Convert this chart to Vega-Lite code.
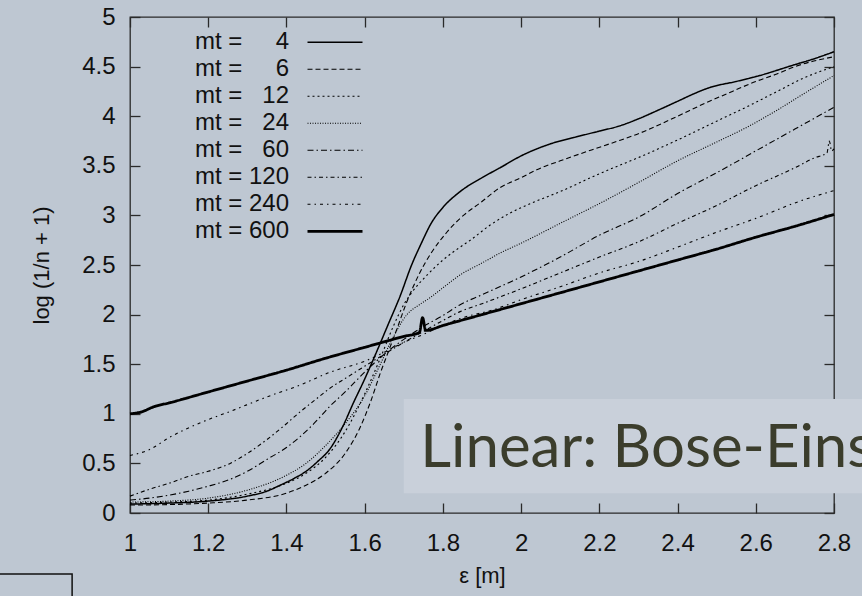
{
  "$schema": "https://vega.github.io/schema/vega-lite/v6.json",
  "width": 704,
  "height": 496,
  "autosize": {"type": "none"},
  "padding": {"left": 130, "top": 17, "right": 28, "bottom": 83},
  "background": "#bec7d2",
  "config": {
    "view": {"stroke": "#2a2a2a", "strokeWidth": 1.3},
    "font": "Liberation Sans",
    "axis": {
      "domain": false, "grid": false, "tickSize": -10, "tickColor": "#2a2a2a", "tickWidth": 1.3,
      "labelFont": "Liberation Sans", "labelFontSize": 24, "labelColor": "#111111",
      "labelFlush": false, "labelOverlap": false,
      "titleFont": "Liberation Sans", "titleFontSize": 22, "titleColor": "#111111", "titleFontWeight": "normal"
    }
  },
  "datasets": {
    "curves": [
      {"mt":"4","x":1.0,"y":0.09},{"mt":"4","x":1.1,"y":0.1},{"mt":"4","x":1.2,"y":0.12},{"mt":"4","x":1.3,"y":0.17},{"mt":"4","x":1.35,"y":0.22},{"mt":"4","x":1.384,"y":0.28},{"mt":"4","x":1.42,"y":0.35},{"mt":"4","x":1.45,"y":0.42},{"mt":"4","x":1.48,"y":0.52},{"mt":"4","x":1.51,"y":0.64},{"mt":"4","x":1.545,"y":0.88},{"mt":"4","x":1.57,"y":1.1},{"mt":"4","x":1.6,"y":1.35},{"mt":"4","x":1.63,"y":1.62},{"mt":"4","x":1.66,"y":1.9},{"mt":"4","x":1.69,"y":2.18},{"mt":"4","x":1.72,"y":2.5},{"mt":"4","x":1.745,"y":2.72},{"mt":"4","x":1.77,"y":2.92},{"mt":"4","x":1.8,"y":3.08},{"mt":"4","x":1.844,"y":3.24},{"mt":"4","x":1.9,"y":3.38},{"mt":"4","x":1.946,"y":3.48},{"mt":"4","x":2.0,"y":3.6},{"mt":"4","x":2.074,"y":3.72},{"mt":"4","x":2.15,"y":3.8},{"mt":"4","x":2.2,"y":3.85},{"mt":"4","x":2.25,"y":3.9},{"mt":"4","x":2.304,"y":3.98},{"mt":"4","x":2.35,"y":4.06},{"mt":"4","x":2.4,"y":4.15},{"mt":"4","x":2.45,"y":4.24},{"mt":"4","x":2.483,"y":4.29},{"mt":"4","x":2.55,"y":4.35},{"mt":"4","x":2.61,"y":4.41},{"mt":"4","x":2.7,"y":4.52},{"mt":"4","x":2.75,"y":4.58},{"mt":"4","x":2.8,"y":4.65},
      {"mt":"6","x":1.0,"y":0.08},{"mt":"6","x":1.1,"y":0.085},{"mt":"6","x":1.2,"y":0.1},{"mt":"6","x":1.3,"y":0.13},{"mt":"6","x":1.4,"y":0.2},{"mt":"6","x":1.45,"y":0.28},{"mt":"6","x":1.5,"y":0.4},{"mt":"6","x":1.55,"y":0.6},{"mt":"6","x":1.588,"y":0.86},{"mt":"6","x":1.615,"y":1.12},{"mt":"6","x":1.64,"y":1.41},{"mt":"6","x":1.66,"y":1.62},{"mt":"6","x":1.683,"y":1.86},{"mt":"6","x":1.705,"y":2.1},{"mt":"6","x":1.724,"y":2.28},{"mt":"6","x":1.742,"y":2.43},{"mt":"6","x":1.77,"y":2.62},{"mt":"6","x":1.81,"y":2.83},{"mt":"6","x":1.844,"y":2.97},{"mt":"6","x":1.9,"y":3.14},{"mt":"6","x":1.946,"y":3.28},{"mt":"6","x":2.0,"y":3.38},{"mt":"6","x":2.04,"y":3.46},{"mt":"6","x":2.1,"y":3.55},{"mt":"6","x":2.18,"y":3.66},{"mt":"6","x":2.24,"y":3.74},{"mt":"6","x":2.304,"y":3.83},{"mt":"6","x":2.4,"y":4.0},{"mt":"6","x":2.47,"y":4.13},{"mt":"6","x":2.54,"y":4.25},{"mt":"6","x":2.6,"y":4.35},{"mt":"6","x":2.65,"y":4.42},{"mt":"6","x":2.7,"y":4.5},{"mt":"6","x":2.8,"y":4.6},
      {"mt":"12","x":1.0,"y":0.1},{"mt":"12","x":1.1,"y":0.11},{"mt":"12","x":1.2,"y":0.13},{"mt":"12","x":1.3,"y":0.19},{"mt":"12","x":1.4,"y":0.3},{"mt":"12","x":1.45,"y":0.4},{"mt":"12","x":1.5,"y":0.56},{"mt":"12","x":1.55,"y":0.82},{"mt":"12","x":1.6,"y":1.2},{"mt":"12","x":1.64,"y":1.56},{"mt":"12","x":1.673,"y":1.88},{"mt":"12","x":1.7,"y":2.1},{"mt":"12","x":1.72,"y":2.22},{"mt":"12","x":1.76,"y":2.4},{"mt":"12","x":1.8,"y":2.55},{"mt":"12","x":1.844,"y":2.68},{"mt":"12","x":1.87,"y":2.75},{"mt":"12","x":1.92,"y":2.9},{"mt":"12","x":1.97,"y":3.02},{"mt":"12","x":2.03,"y":3.13},{"mt":"12","x":2.1,"y":3.24},{"mt":"12","x":2.2,"y":3.42},{"mt":"12","x":2.304,"y":3.59},{"mt":"12","x":2.4,"y":3.76},{"mt":"12","x":2.5,"y":3.95},{"mt":"12","x":2.58,"y":4.1},{"mt":"12","x":2.65,"y":4.24},{"mt":"12","x":2.72,"y":4.38},{"mt":"12","x":2.8,"y":4.5},
      {"mt":"24","x":1.0,"y":0.11},{"mt":"24","x":1.1,"y":0.12},{"mt":"24","x":1.2,"y":0.15},{"mt":"24","x":1.3,"y":0.23},{"mt":"24","x":1.4,"y":0.38},{"mt":"24","x":1.45,"y":0.5},{"mt":"24","x":1.5,"y":0.68},{"mt":"24","x":1.55,"y":0.9},{"mt":"24","x":1.6,"y":1.18},{"mt":"24","x":1.64,"y":1.5},{"mt":"24","x":1.67,"y":1.75},{"mt":"24","x":1.708,"y":2.0},{"mt":"24","x":1.74,"y":2.1},{"mt":"24","x":1.767,"y":2.17},{"mt":"24","x":1.8,"y":2.27},{"mt":"24","x":1.844,"y":2.4},{"mt":"24","x":1.9,"y":2.52},{"mt":"24","x":1.946,"y":2.62},{"mt":"24","x":2.0,"y":2.72},{"mt":"24","x":2.1,"y":2.92},{"mt":"24","x":2.22,"y":3.16},{"mt":"24","x":2.304,"y":3.34},{"mt":"24","x":2.4,"y":3.55},{"mt":"24","x":2.5,"y":3.74},{"mt":"24","x":2.578,"y":3.89},{"mt":"24","x":2.65,"y":4.05},{"mt":"24","x":2.72,"y":4.22},{"mt":"24","x":2.8,"y":4.41},
      {"mt":"60","x":1.0,"y":0.13},{"mt":"60","x":1.05,"y":0.15},{"mt":"60","x":1.1,"y":0.18},{"mt":"60","x":1.15,"y":0.22},{"mt":"60","x":1.2,"y":0.27},{"mt":"60","x":1.256,"y":0.34},{"mt":"60","x":1.3,"y":0.42},{"mt":"60","x":1.35,"y":0.54},{"mt":"60","x":1.4,"y":0.66},{"mt":"60","x":1.435,"y":0.77},{"mt":"60","x":1.47,"y":0.9},{"mt":"60","x":1.512,"y":1.08},{"mt":"60","x":1.55,"y":1.22},{"mt":"60","x":1.6,"y":1.42},{"mt":"60","x":1.65,"y":1.6},{"mt":"60","x":1.7,"y":1.75},{"mt":"60","x":1.75,"y":1.88},{"mt":"60","x":1.8,"y":1.99},{"mt":"60","x":1.844,"y":2.1},{"mt":"60","x":1.9,"y":2.2},{"mt":"60","x":2.0,"y":2.38},{"mt":"60","x":2.1,"y":2.58},{"mt":"60","x":2.2,"y":2.8},{"mt":"60","x":2.304,"y":2.99},{"mt":"60","x":2.4,"y":3.22},{"mt":"60","x":2.5,"y":3.43},{"mt":"60","x":2.6,"y":3.65},{"mt":"60","x":2.7,"y":3.87},{"mt":"60","x":2.8,"y":4.09},
      {"mt":"120","x":1.0,"y":0.17},{"mt":"120","x":1.05,"y":0.24},{"mt":"120","x":1.1,"y":0.3},{"mt":"120","x":1.15,"y":0.37},{"mt":"120","x":1.2,"y":0.42},{"mt":"120","x":1.256,"y":0.5},{"mt":"120","x":1.3,"y":0.6},{"mt":"120","x":1.35,"y":0.74},{"mt":"120","x":1.4,"y":0.9},{"mt":"120","x":1.435,"y":1.02},{"mt":"120","x":1.47,"y":1.13},{"mt":"120","x":1.512,"y":1.26},{"mt":"120","x":1.56,"y":1.38},{"mt":"120","x":1.6,"y":1.48},{"mt":"120","x":1.65,"y":1.6},{"mt":"120","x":1.7,"y":1.72},{"mt":"120","x":1.75,"y":1.83},{"mt":"120","x":1.8,"y":1.94},{"mt":"120","x":1.844,"y":2.03},{"mt":"120","x":1.9,"y":2.11},{"mt":"120","x":2.0,"y":2.26},{"mt":"120","x":2.1,"y":2.42},{"mt":"120","x":2.2,"y":2.58},{"mt":"120","x":2.304,"y":2.74},{"mt":"120","x":2.4,"y":2.92},{"mt":"120","x":2.5,"y":3.1},{"mt":"120","x":2.6,"y":3.3},{"mt":"120","x":2.7,"y":3.48},{"mt":"120","x":2.75,"y":3.58},{"mt":"120","x":2.782,"y":3.63},{"mt":"120","x":2.788,"y":3.75},{"mt":"120","x":2.794,"y":3.65},{"mt":"120","x":2.8,"y":3.67},
      {"mt":"240","x":1.0,"y":0.58},{"mt":"240","x":1.05,"y":0.64},{"mt":"240","x":1.1,"y":0.76},{"mt":"240","x":1.18,"y":0.91},{"mt":"240","x":1.26,"y":1.03},{"mt":"240","x":1.35,"y":1.17},{"mt":"240","x":1.435,"y":1.29},{"mt":"240","x":1.512,"y":1.42},{"mt":"240","x":1.6,"y":1.53},{"mt":"240","x":1.65,"y":1.62},{"mt":"240","x":1.7,"y":1.72},{"mt":"240","x":1.75,"y":1.8},{"mt":"240","x":1.8,"y":1.89},{"mt":"240","x":1.844,"y":1.96},{"mt":"240","x":1.93,"y":2.05},{"mt":"240","x":2.0,"y":2.15},{"mt":"240","x":2.1,"y":2.28},{"mt":"240","x":2.2,"y":2.42},{"mt":"240","x":2.304,"y":2.54},{"mt":"240","x":2.4,"y":2.68},{"mt":"240","x":2.5,"y":2.83},{"mt":"240","x":2.6,"y":2.97},{"mt":"240","x":2.71,"y":3.14},{"mt":"240","x":2.8,"y":3.25},
      {"mt":"600","x":1.0,"y":1.0},{"mt":"600","x":1.03,"y":1.02},{"mt":"600","x":1.06,"y":1.07},{"mt":"600","x":1.1,"y":1.11},{"mt":"600","x":1.2,"y":1.22},{"mt":"600","x":1.3,"y":1.33},{"mt":"600","x":1.4,"y":1.44},{"mt":"600","x":1.5,"y":1.56},{"mt":"600","x":1.6,"y":1.67},{"mt":"600","x":1.7,"y":1.78},{"mt":"600","x":1.74,"y":1.82},{"mt":"600","x":1.748,"y":1.97},{"mt":"600","x":1.756,"y":1.84},{"mt":"600","x":1.8,"y":1.89},{"mt":"600","x":1.9,"y":2.0},{"mt":"600","x":2.0,"y":2.11},{"mt":"600","x":2.1,"y":2.22},{"mt":"600","x":2.2,"y":2.33},{"mt":"600","x":2.3,"y":2.44},{"mt":"600","x":2.4,"y":2.55},{"mt":"600","x":2.5,"y":2.66},{"mt":"600","x":2.6,"y":2.78},{"mt":"600","x":2.7,"y":2.89},{"mt":"600","x":2.8,"y":3.01}
    ],
    "box": [{"x": 1.70, "x2": 2.95, "y": 0.20, "y2": 1.15}],
    "note": [{"x": 1.742, "y": 0.464, "label": "Linear: Bose-Einstein"}],
    "corner": [{"x": 0.55, "x2": 0.852, "y": -0.615, "y2": -1.2}]
  },
  "layer": [
    {
      "data": {"name": "curves"},
      "mark": {"type": "line", "color": "#000000", "interpolate": "monotone"},
      "encoding": {
        "x": {"field": "x", "type": "quantitative",
          "scale": {"domain": [1, 2.8], "nice": false, "zero": false},
          "axis": {"orient": "bottom", "values": [1, 1.2, 1.4, 1.6, 1.8, 2, 2.2, 2.4, 2.6, 2.8], "format": "~g", "title": "ε [m]", "labelPadding": 28, "titlePadding": 10}},
        "y": {"field": "y", "type": "quantitative",
          "scale": {"domain": [0, 5], "nice": false, "zero": false},
          "axis": {"orient": "left", "values": [0, 0.5, 1, 1.5, 2, 2.5, 3, 3.5, 4, 4.5, 5], "format": "~g", "title": "log (1/n + 1)", "labelPadding": 25, "titlePadding": 28}},
        "strokeDash": {"field": "mt", "type": "ordinal",
          "scale": {"type": "ordinal", "domain": ["4", "6", "12", "24", "60", "120", "240", "600"],
                    "range": [[1, 0], [5, 3], [2, 3], [1, 1.5], [6, 3, 1.5, 3], [4, 3, 1.5, 3], [3, 4, 1.5, 4], [1, 0]]},
          "legend": {"orient": "none", "legendX": 176, "legendY": 12, "title": null, "symbolType": "stroke", "symbolSize": 3025, "symbolStrokeColor": "#000000", "clipHeight": 26.6,
                     "labelFont": "Liberation Sans", "labelFontSize": 24, "labelColor": "#111111", "labelAlign": "right", "labelOffset": -75, "rowPadding": 0, "padding": 0,
                     "labelExpr": "'mt = ' + (length(datum.label) == 1 ? '\u2007\u2007' : length(datum.label) == 2 ? '\u2007' : '') + datum.label",
                     "encode": {"entries": {"update": {"width": {"value": 70}}}}}},
        "strokeWidth": {"field": "mt", "type": "ordinal",
          "scale": {"type": "ordinal", "domain": ["4", "6", "12", "24", "60", "120", "240", "600"], "range": [1.5, 1.1, 1.1, 1.1, 1.1, 1.1, 1.1, 2.8]},
          "legend": {"orient": "none", "legendX": 176, "legendY": 12, "title": null, "symbolType": "stroke", "symbolSize": 3025, "symbolStrokeColor": "#000000", "clipHeight": 26.6,
                     "labelFont": "Liberation Sans", "labelFontSize": 24, "labelColor": "#111111", "labelAlign": "right", "labelOffset": -75, "rowPadding": 0, "padding": 0,
                     "labelExpr": "'mt = ' + (length(datum.label) == 1 ? '\u2007\u2007' : length(datum.label) == 2 ? '\u2007' : '') + datum.label",
                     "encode": {"entries": {"update": {"width": {"value": 70}}}}}}
      }
    },
    {
      "data": {"name": "box"},
      "mark": {"type": "rect", "fill": "#c9d0da", "stroke": null},
      "encoding": {
        "x": {"field": "x", "type": "quantitative", "scale": {"domain": [1, 2.8], "nice": false, "zero": false},
          "axis": {"orient": "top", "values": [1, 1.2, 1.4, 1.6, 1.8, 2, 2.2, 2.4, 2.6, 2.8], "labels": false, "title": null}},
        "x2": {"field": "x2"},
        "y": {"field": "y", "type": "quantitative", "scale": {"domain": [0, 5], "nice": false, "zero": false},
          "axis": {"orient": "right", "values": [0, 0.5, 1, 1.5, 2, 2.5, 3, 3.5, 4, 4.5, 5], "labels": false, "title": null}},
        "y2": {"field": "y2"}
      }
    },
    {
      "data": {"name": "note"},
      "mark": {"type": "text", "font": "Lato", "fontSize": 60, "color": "#3b3d2c", "align": "left", "baseline": "alphabetic"},
      "encoding": {
        "x": {"field": "x", "type": "quantitative", "axis": null},
        "y": {"field": "y", "type": "quantitative", "axis": null},
        "text": {"field": "label"}
      }
    },
    {
      "data": {"name": "corner"},
      "mark": {"type": "rect", "fill": null, "stroke": "#111111", "strokeWidth": 1.5},
      "encoding": {
        "x": {"field": "x", "type": "quantitative", "axis": null},
        "x2": {"field": "x2"},
        "y": {"field": "y", "type": "quantitative", "axis": null},
        "y2": {"field": "y2"}
      }
    }
  ],
  "resolve": {"axis": {"x": "independent", "y": "independent"}}
}
